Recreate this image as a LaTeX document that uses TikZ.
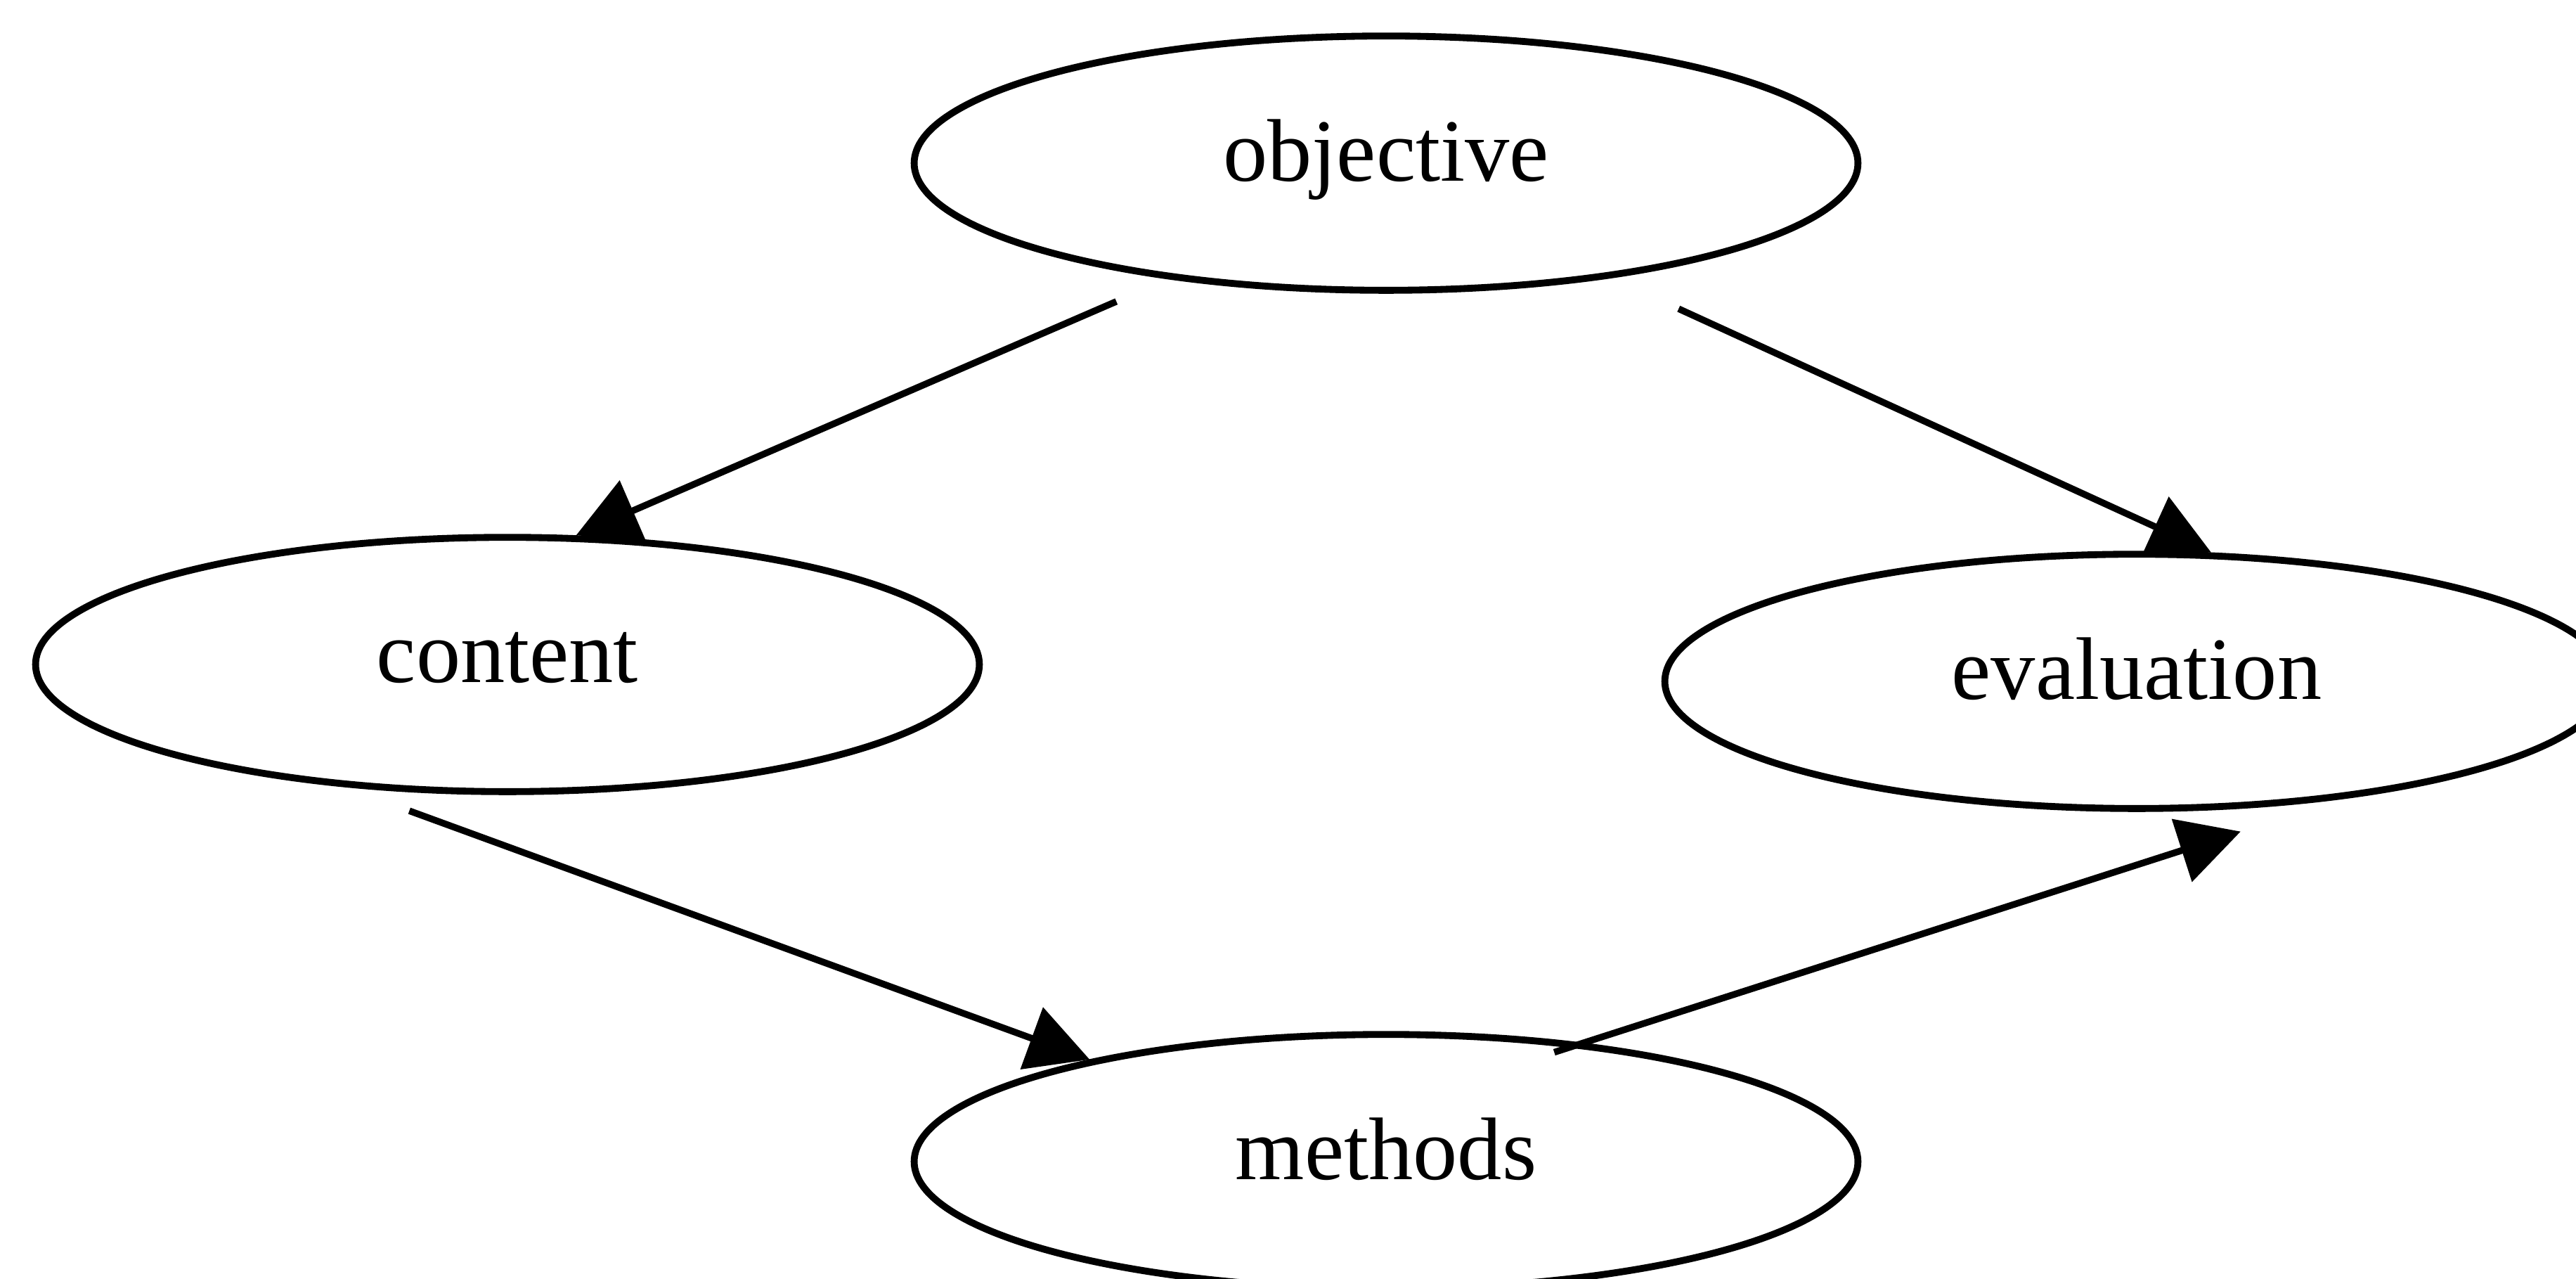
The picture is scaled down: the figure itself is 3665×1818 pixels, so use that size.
\documentclass[tikz,border=0pt]{standalone}
\usepackage{fontspec}
\setmainfont{Liberation Serif}
\usetikzlibrary{positioning,arrows.meta,shapes.geometric}

\begin{document}
\begin{tikzpicture}[x=0.005cm, y=-0.005cm,
      topic/.style={draw, ellipse, line width=1.4pt, inner sep=0pt,
                    minimum width=6.72cm, minimum height=1.81cm,
                    text height=12.2pt, text depth=4.9pt,
                    font=\fontsize{18}{20}\selectfont},
      flow/.style={->, line width=1.35pt},
      >={Triangle[length=0.44cm, width=0.46cm]}]
    \useasboundingbox (0,0) rectangle (3665,1818);
    \node[topic] (objective)  at (1972,232)  {objective};
    \node[topic] (content)    at (722,945)   {content};
    \node[topic] (evaluation) at (3040,969)  {evaluation};
    \node[topic] (methods)    at (1972,1652) {methods};
    \draw[flow, shorten <=0.4cm] (objective.208) -- (content.62);
    \draw[flow, shorten <=0.525cm] (objective.333) -- (evaluation.60);
    \draw[flow, shorten <=0.49cm] (content.217.5) -- (methods.161);
    \draw[flow, shorten <=-0.22cm, shorten >=0.75cm] (methods.31.6) -- (evaluation.330.5);
  \end{tikzpicture}
\end{document}
